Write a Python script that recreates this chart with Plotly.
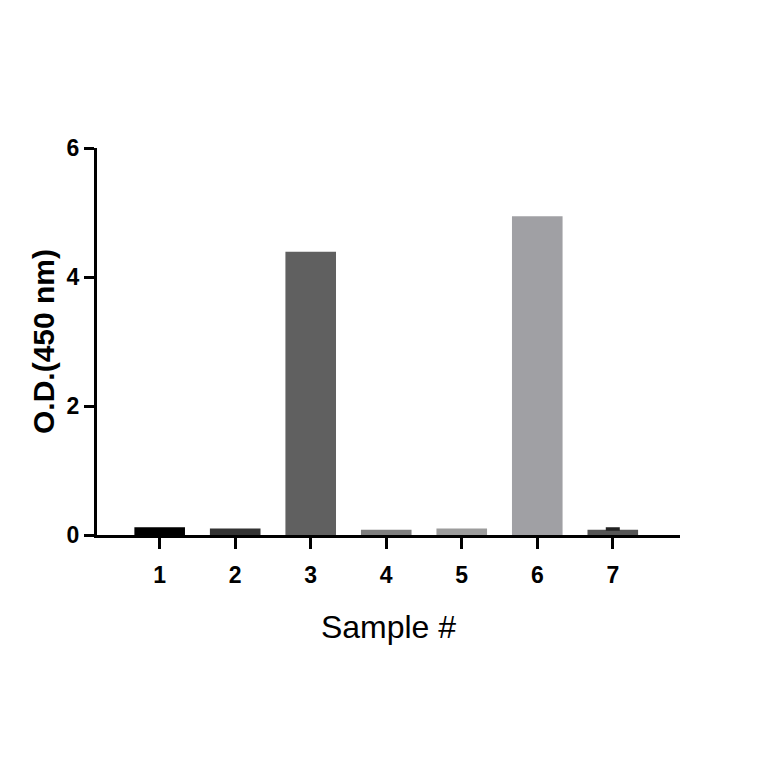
import plotly.graph_objects as go

samples = [1, 2, 3, 4, 5, 6, 7]
od_450 = [0.12, 0.10, 4.39, 0.08, 0.10, 4.94, 0.08]
bar_colors = ['#000000', '#333333', '#606060', '#7e7e7e', '#9c9c9c', '#a0a0a4', '#555555']

# only sample 7 shows an error bar
err_x = [7]
err_y = [0.08]
err_up = [0.025]

tick_font = dict(family='Liberation Sans', size=23, color='black', weight='bold')

fig = go.Figure()
fig.add_trace(go.Bar(x=samples, y=od_450, width=0.67,
                     marker=dict(color=bar_colors, line=dict(width=0)),
                     showlegend=False, hoverinfo='x+y'))
fig.add_trace(go.Scatter(x=err_x, y=err_y, mode='markers',
                         marker=dict(size=1, color='rgba(0,0,0,0)'),
                         error_y=dict(type='data', array=err_up, arrayminus=[0], symmetric=False,
                                      color='#222222', thickness=2, width=7),
                         showlegend=False, hoverinfo='skip'))

fig.update_layout(
    width=764, height=764,
    margin=dict(l=89, r=92, t=140, b=237),
    plot_bgcolor='white', paper_bgcolor='white',
    xaxis=dict(range=[0.17, 7.89], tickvals=samples, ticktext=[str(s) for s in samples],
               showline=True, linecolor='black', linewidth=3,
               ticks='outside', ticklen=11, tickwidth=3, tickcolor='black',
               ticklabelstandoff=6,
               showgrid=False, zeroline=False, tickfont=tick_font,
               title=dict(text='Sample #', standoff=30,
                          font=dict(family='Liberation Sans', size=32, color='black'))),
    yaxis=dict(range=[0, 6], tickvals=[0, 2, 4, 6],
               showline=True, linecolor='black', linewidth=3,
               ticks='outside', ticklen=10, tickwidth=3, tickcolor='black',
               showgrid=False, zeroline=False, tickfont=tick_font,
               title=dict(text='<b>O.D.(450 nm)</b>', standoff=4,
                          font=dict(family='Liberation Sans', size=30, color='black'))),
)

fig.write_html('out.html')
